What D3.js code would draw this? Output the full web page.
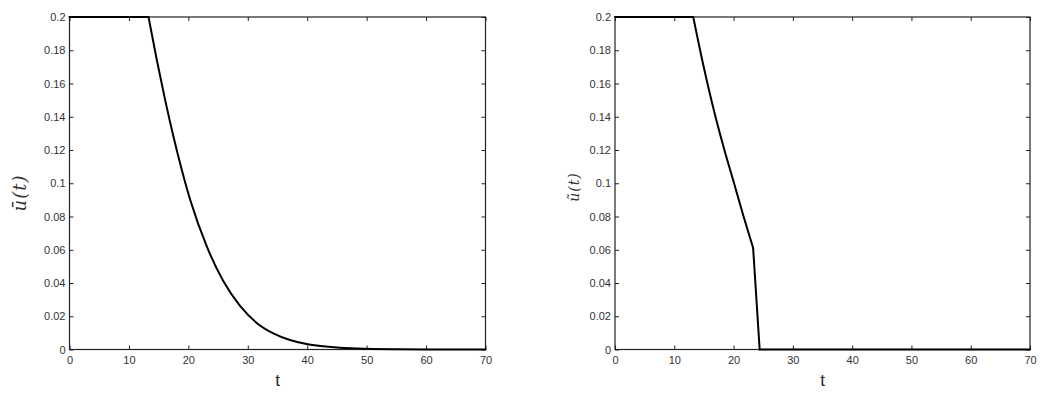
<!DOCTYPE html>
<html>
<head>
<meta charset="utf-8">
<script src="https://cdn.jsdelivr.net/npm/d3@7"></script>
<style>
  body { margin: 0; background: #fff; }
  svg { display: block; }
  .tick text { font-family: "Liberation Sans", Arial, sans-serif; font-size: 11px; fill: #333; }
  .tick line { stroke: #222; }
</style>
</head>
<body>
<div id="chart"></div>
<script>
// Tick values shared by both panels
const xTicks = [0, 10, 20, 30, 40, 50, 60, 70];
const yTicks = [0, 0.02, 0.04, 0.06, 0.08, 0.1, 0.12, 0.14, 0.16, 0.18, 0.2];

// Left panel: u-bar(t)
const leftT = [0, 13.3, 14.7, 16.1, 17.5, 18.9, 20.4, 23.1, 25.9, 28.7, 31.5, 34.3, 37.1, 39.9, 42.7, 45.5, 50, 55, 60, 70];
const leftU = [0.2, 0.2, 0.174, 0.150, 0.128, 0.108, 0.089, 0.062, 0.041, 0.0262, 0.0160, 0.0097, 0.0057, 0.0033, 0.0020, 0.0011, 0.0004, 0.0001, 0, 0];
const leftKinks = [1];

// Right panel: u-tilde(t)
const rightT = [0, 13.2, 14.9, 16.6, 18.3, 20.0, 21.6, 23.3, 24.4, 70];
const rightU = [0.2, 0.2, 0.171, 0.145, 0.122, 0.101, 0.081, 0.061, 0, 0];
const rightKinks = [1, 7, 8];

const width = 1042, height = 393;

const svg = d3.select('#chart')
    .append('svg')
    .attr('width', width)
    .attr('height', height);

svg.append('rect').attr('width', width).attr('height', height).attr('fill', '#fff');

function drawPanel(cfg) {
    const xScale = d3.scaleLinear().domain([0, 70]).range([cfg.x0, cfg.x1]);
    const yScale = d3.scaleLinear().domain([0, 0.2]).range([cfg.y0, cfg.y1]);
    const g = svg.append('g');

    const yFmt = d => String(+d.toFixed(2));

    // inward ticks on all four sides (matlab style)
    g.append('g')
        .attr('transform', `translate(0,${cfg.y0})`)
        .call(d3.axisBottom(xScale).tickValues(xTicks).tickSize(-4).tickPadding(7))
        .call(a => a.select('.domain').remove());
    g.append('g')
        .attr('transform', `translate(0,${cfg.y1})`)
        .call(d3.axisTop(xScale).tickValues(xTicks).tickSize(-4).tickFormat(''))
        .call(a => a.select('.domain').remove());
    g.append('g')
        .attr('transform', `translate(${cfg.x0},0)`)
        .call(d3.axisLeft(yScale).tickValues(yTicks).tickSize(-4).tickPadding(4).tickFormat(yFmt))
        .call(a => a.select('.domain').remove());
    g.append('g')
        .attr('transform', `translate(${cfg.x1},0)`)
        .call(d3.axisRight(yScale).tickValues(yTicks).tickSize(-4).tickFormat(''))
        .call(a => a.select('.domain').remove());

    // box
    g.append('rect')
        .attr('x', cfg.x0).attr('y', cfg.y1)
        .attr('width', cfg.x1 - cfg.x0).attr('height', cfg.y0 - cfg.y1)
        .attr('fill', 'none').attr('stroke', '#222').attr('stroke-width', 1.2);

    // curve: smooth between kinks, sharp corners at kinks
    const pts = cfg.t.map((t, i) => [t, cfg.u[i]]);
    const line = d3.line()
        .x(d => xScale(d[0]))
        .y(d => yScale(d[1]))
        .curve(d3.curveMonotoneX);
    const cuts = [0, ...cfg.kinks, pts.length - 1];
    for (let i = 0; i < cuts.length - 1; i++) {
        g.append('path')
            .attr('d', line(pts.slice(cuts[i], cuts[i + 1] + 1)))
            .attr('fill', 'none')
            .attr('stroke', '#000')
            .attr('stroke-width', 2)
            .attr('stroke-linecap', 'round');
    }

    // x label
    g.append('text')
        .attr('x', (cfg.x0 + cfg.x1) / 2)
        .attr('y', 386)
        .attr('text-anchor', 'middle')
        .style('font-family', '"Liberation Sans", Arial, sans-serif')
        .style('font-size', '17px')
        .style('fill', '#222')
        .text('t');

    // y label
    g.append('text')
        .attr('transform', `translate(${cfg.lx},${cfg.ly}) rotate(-90)`)
        .attr('text-anchor', 'middle')
        .style('font-family', '"DejaVu Serif", "Liberation Serif", serif')
        .style('font-style', 'italic')
        .style('font-size', cfg.lsize + 'px')
        .style('letter-spacing', '1px')
        .style('fill', '#333')
        .text(cfg.label);
}

drawPanel({ x0: 69.5, x1: 485.5, y0: 349.5, y1: 17, t: leftT, u: leftU, kinks: leftKinks,
    label: 'ū(t)', lx: 26, ly: 193, lsize: 18 });
drawPanel({ x0: 615, x1: 1030, y0: 349.5, y1: 17, t: rightT, u: rightU, kinks: rightKinks,
    label: 'ũ(t)', lx: 579, ly: 187, lsize: 14 });
</script>
</body>
</html>
